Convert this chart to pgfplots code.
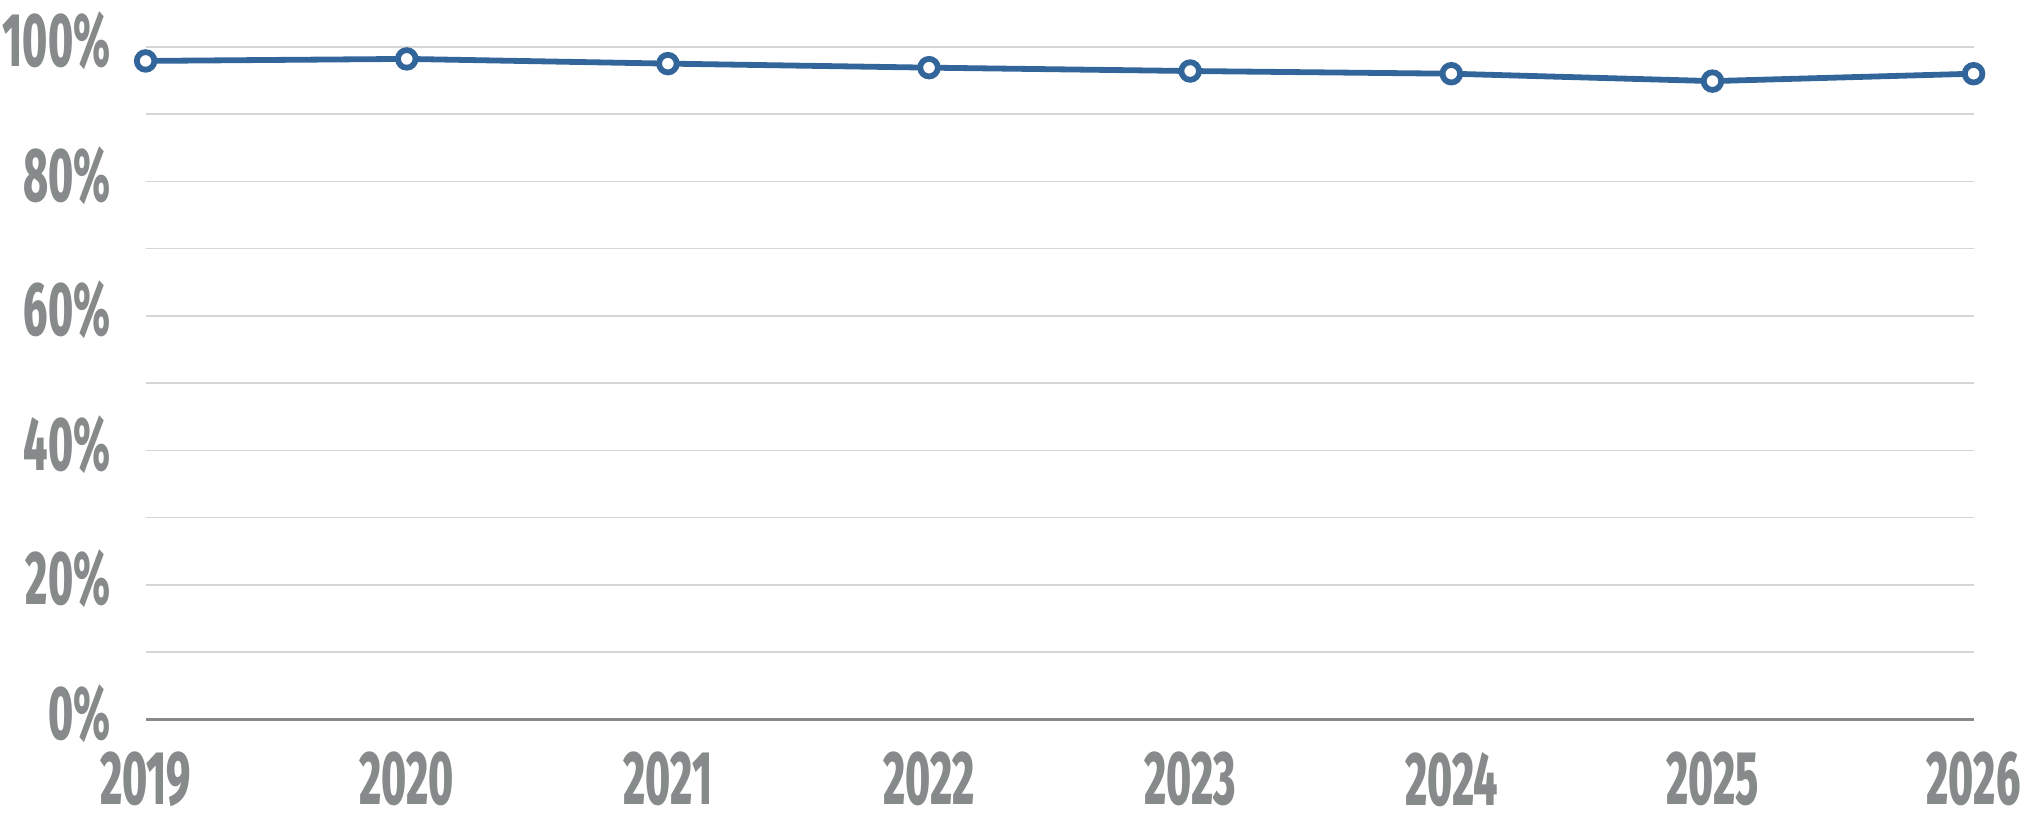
\documentclass[border=0pt]{standalone}
\usepackage{fontspec}
\usepackage{pgfplots}
\pgfplotsset{compat=1.18}
\newfontfamily\lab{Fira Sans ExtraBold}[FakeStretch=0.56]
\definecolor{linecol}{HTML}{32669A}
\definecolor{labgray}{HTML}{878A8A}
\definecolor{gridgray}{HTML}{D6D6D6}
\begin{document}
\begin{tikzpicture}
\begin{axis}[
    scale only axis,
    width=457pt, height=168.15pt,
    xmin=0, xmax=7, ymin=0, ymax=100,
    clip=false,
    axis line style={draw=none},
    tick style={draw=none},
    xtick={0,...,7},
    xticklabels={2019,2020,2021,2022,2023,2024,2025,2026},
    ytick={0,20,...,100},
    yticklabels={0\%,20\%,40\%,60\%,80\%,100\%},
    minor ytick={10,30,...,90},
    ymajorgrids, yminorgrids,
    major grid style={gridgray, line width=0.4pt},
    minor grid style={gridgray, line width=0.4pt},
    extra y ticks={0},
    extra y tick labels={},
    extra y tick style={major grid style={labgray, line width=0.75pt}},
    ticklabel style={font=\lab\fontsize{19}{20}\selectfont, text=labgray, inner sep=0pt},
    xticklabel style={anchor=north, yshift=-8pt},
    yticklabel style={anchor=east, xshift=-8.6pt, yshift=1.5pt},
]
\addplot[linecol, line width=1.45pt, mark=*, mark size=2.2pt,
    mark options={fill=white, draw=linecol, line width=1.45pt}]
    coordinates {
    (0,97.9) (1,98.2) (2,97.5) (3,96.9) (4,96.4) (5,96.0) (6,94.9) (7,96.0)
};
\coordinate (sw) at (rel axis cs:0,0);
\coordinate (ne) at (rel axis cs:1,1);
\end{axis}
\pgfresetboundingbox
\path[use as bounding box] ([shift={(-36.4pt,-26.65pt)}]sw) rectangle ([shift={(16.6pt,11.7pt)}]ne);
\end{tikzpicture}
\end{document}
